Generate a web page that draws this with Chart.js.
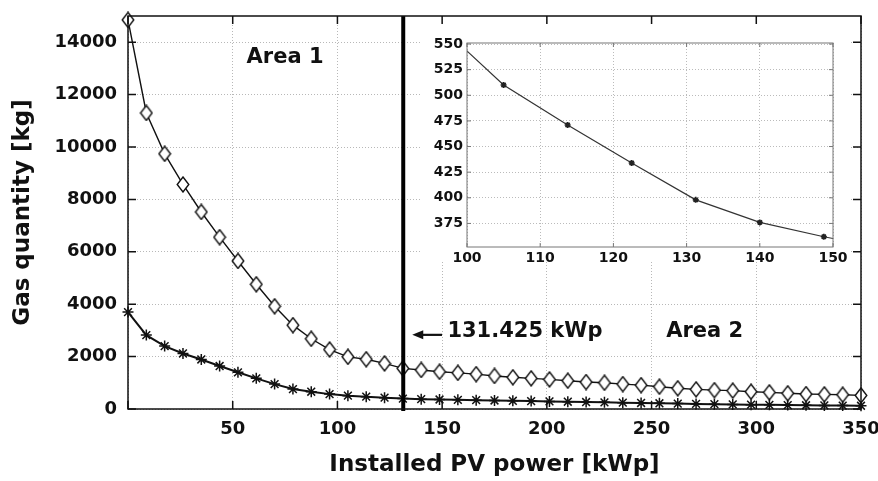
<!DOCTYPE html>
<html>
<head>
<meta charset="utf-8">
<script src="https://cdn.jsdelivr.net/npm/chart.js@4.4.0/dist/chart.umd.min.js"></script>
<style>
  html, body { margin: 0; padding: 0; background: #fff; }
  #wrap { position: relative; width: 878px; height: 481px; }
  #main { position: absolute; left: 0; top: 0; }
  #inset { position: absolute; left: 420px; top: 25px; }
</style>
</head>
<body>
<div id="wrap">
  <canvas id="main" width="878" height="481"></canvas>
  <canvas id="inset" width="430" height="237"></canvas>
</div>
<script>
const pvPower = [0, 8.75, 17.5, 26.25, 35, 43.75, 52.5, 61.25, 70, 78.75, 87.5, 96.25, 105, 113.75, 122.5,
  131.25, 140, 148.75, 157.5, 166.25, 175, 183.75, 192.5, 201.25, 210, 218.75, 227.5, 236.25, 245,
  253.75, 262.5, 271.25, 280, 288.75, 297.5, 306.25, 315, 323.75, 332.5, 341.25, 350];
const gasDiamond = [14850, 11300, 9740, 8570, 7520, 6560, 5650, 4760, 3920, 3200, 2680, 2270, 1990, 1900, 1740,
  1550, 1490, 1420, 1380, 1330, 1260, 1210, 1170, 1130, 1080, 1030, 1000, 950, 910,
  850, 790, 750, 720, 700, 660, 635, 600, 570, 560, 545, 520];
const gasStar = [3700, 2820, 2400, 2120, 1890, 1640, 1400, 1170, 950, 760, 660, 568, 510, 471, 434,
  398, 376, 362, 350, 338, 326, 314, 302, 290, 278, 266, 254, 242, 230,
  218, 206, 195, 185, 175, 166, 158, 150, 143, 136, 130, 124];
const xTicks = [0, 50, 100, 150, 200, 250, 300, 350];
const yTicks = [0, 2000, 4000, 6000, 8000, 10000, 12000, 14000];
const insetXTicks = [100, 110, 120, 130, 140, 150];
const insetYTicks = [375, 400, 425, 450, 475, 500, 525, 550];
const cutPower = 131.425;
const cutLabel = "131.425 kWp";

const FONT = "'DejaVu Sans', 'Liberation Sans', sans-serif";
const INK = "#111";

function toPoints(xs, ys) {
  return xs.map((x, i) => ({ x: x, y: ys[i] }));
}

// fixed axis size, no extra room for half labels
function fixSize(w, h) {
  return s => {
    if (w != null) s.width = w;
    if (h != null) s.height = h;
    s.paddingLeft = 0; s.paddingRight = 0; s.paddingTop = 0; s.paddingBottom = 0;
  };
}

// diamond marker, a bit taller than wide like the original
function diamondMarker() {
  const c = document.createElement("canvas");
  c.width = 14; c.height = 17;
  const g = c.getContext("2d");
  g.beginPath();
  g.moveTo(7, 1); g.lineTo(12.8, 8.5); g.lineTo(7, 16); g.lineTo(1.2, 8.5); g.closePath();
  g.fillStyle = "#fff"; g.fill();
  g.lineWidth = 1.4; g.strokeStyle = INK; g.stroke();
  return c;
}

function frame(ctx, chart, color, width, tickLen, xVals, yVals) {
  const a = chart.chartArea, xs = chart.scales.x, ys = chart.scales.y;
  ctx.save();
  ctx.strokeStyle = color; ctx.lineWidth = width;
  ctx.strokeRect(a.left, a.top, a.right - a.left, a.bottom - a.top);
  ctx.beginPath();
  xVals.forEach(v => {
    const px = xs.getPixelForValue(v);
    ctx.moveTo(px, a.bottom); ctx.lineTo(px, a.bottom - tickLen);
    ctx.moveTo(px, a.top); ctx.lineTo(px, a.top + tickLen);
  });
  yVals.forEach(v => {
    const py = ys.getPixelForValue(v);
    ctx.moveTo(a.left, py); ctx.lineTo(a.left + tickLen, py);
    ctx.moveTo(a.right, py); ctx.lineTo(a.right - tickLen, py);
  });
  ctx.stroke();
  ctx.restore();
}

const mainDecor = {
  id: "mainDecor",
  afterDatasetsDraw(chart) {
    const ctx = chart.ctx, a = chart.chartArea, xs = chart.scales.x;
    // threshold line
    const cx = xs.getPixelForValue(cutPower);
    ctx.save();
    ctx.strokeStyle = "#000"; ctx.lineWidth = 4;
    ctx.beginPath(); ctx.moveTo(cx, a.top); ctx.lineTo(cx, a.bottom + 2); ctx.stroke();
    ctx.restore();
  },
  afterDraw(chart) {
    const ctx = chart.ctx, xs = chart.scales.x, ys = chart.scales.y;
    frame(ctx, chart, INK, 1.5, 8, xTicks, yTicks);

    ctx.save();
    ctx.fillStyle = INK; ctx.strokeStyle = INK;
    ctx.font = "bold 21px " + FONT;
    ctx.textBaseline = "middle";
    ctx.textAlign = "center";
    ctx.fillText("Area 1", xs.getPixelForValue(75), ys.getPixelForValue(13400));

    ctx.textAlign = "left";
    ctx.fillText(cutLabel, xs.getPixelForValue(152.5), ys.getPixelForValue(2950));
    ctx.fillText("Area 2", xs.getPixelForValue(257), ys.getPixelForValue(2950));

    // arrow pointing back to the threshold line
    const ay = ys.getPixelForValue(2830);
    const x0 = xs.getPixelForValue(cutPower + 4.3), x1 = xs.getPixelForValue(cutPower + 18.5);
    ctx.lineWidth = 2.2;
    ctx.beginPath(); ctx.moveTo(x0 + 6, ay); ctx.lineTo(x1, ay); ctx.stroke();
    ctx.beginPath(); ctx.moveTo(x0, ay); ctx.lineTo(x0 + 11, ay - 4.5); ctx.lineTo(x0 + 11, ay + 4.5); ctx.closePath(); ctx.fill();
    ctx.restore();
  }
};

new Chart(document.getElementById("main"), {
  type: "line",
  data: {
    datasets: [
      { data: toPoints(pvPower, gasDiamond), borderColor: INK, borderWidth: 1.4, pointStyle: diamondMarker(),
        pointRadius: 7, clip: false },
      { data: toPoints(pvPower, gasStar), borderColor: INK, borderWidth: 2, pointStyle: "star",
        pointRadius: 5.5, pointBorderWidth: 1.5, pointBorderColor: INK, clip: false }
    ]
  },
  options: {
    responsive: false,
    animation: false,
    layout: { padding: { top: 16, right: 17, left: 0, bottom: 0 } },
    plugins: { legend: { display: false }, tooltip: { enabled: false } },
    scales: {
      x: {
        type: "linear", min: 0, max: 350,
        afterBuildTicks: s => { s.ticks = xTicks.map(v => ({ value: v })); },
        afterFit: fixSize(null, 72),
        ticks: { callback: v => (v === 0 ? "" : String(v)), font: { family: FONT, size: 18, weight: "bold" },
          color: INK, padding: 10, maxRotation: 0, autoSkip: false },
        grid: { color: "#b8b8b8", lineWidth: 1, drawTicks: false },
        border: { display: false, dash: [1, 2] },
        title: { display: true, text: "Installed PV power [kWp]", color: INK,
          font: { family: FONT, size: 23, weight: "bold" }, padding: { top: 0, bottom: 2 } }
      },
      y: {
        type: "linear", min: 0, max: 15000,
        afterBuildTicks: s => { s.ticks = yTicks.map(v => ({ value: v })); },
        afterFit: fixSize(128, null),
        ticks: { callback: v => String(v), font: { family: FONT, size: 18, weight: "bold" },
          color: INK, padding: 11, autoSkip: false },
        grid: { color: "#b8b8b8", lineWidth: 1, drawTicks: false },
        border: { display: false, dash: [1, 2] },
        title: { display: true, text: "Gas quantity [kg]", color: INK,
          font: { family: FONT, size: 23, weight: "bold" }, padding: { top: 9, bottom: 0 } }
      }
    }
  },
  plugins: [mainDecor]
});

const insetDecor = {
  id: "insetDecor",
  beforeDraw(chart) {
    const ctx = chart.ctx;
    ctx.save(); ctx.fillStyle = "#fff"; ctx.fillRect(0, 0, chart.width, chart.height); ctx.restore();
  },
  afterDraw(chart) {
    frame(chart.ctx, chart, "#777", 1, 4, insetXTicks, insetYTicks);
  }
};

new Chart(document.getElementById("inset"), {
  type: "line",
  data: {
    datasets: [
      { data: toPoints(pvPower, gasStar), borderColor: "#333", borderWidth: 1.2, pointStyle: "star",
        pointRadius: 3, pointBorderWidth: 1.6, pointBorderColor: "#222" }
    ]
  },
  options: {
    responsive: false,
    animation: false,
    layout: { padding: { top: 18, right: 17, left: 0, bottom: 0 } },
    plugins: { legend: { display: false }, tooltip: { enabled: false } },
    scales: {
      x: {
        type: "linear", min: 100, max: 150,
        afterBuildTicks: s => { s.ticks = insetXTicks.map(v => ({ value: v })); },
        afterFit: fixSize(null, 15),
        ticks: { callback: v => String(v), font: { family: FONT, size: 14, weight: "bold" },
          color: INK, padding: 3, maxRotation: 0, autoSkip: false },
        grid: { color: "#bbb", lineWidth: 1, drawTicks: false },
        border: { display: false, dash: [1, 2] }
      },
      y: {
        type: "linear", min: 352, max: 551,
        afterBuildTicks: s => { s.ticks = insetYTicks.map(v => ({ value: v })); },
        afterFit: fixSize(47, null),
        ticks: { callback: v => String(v), font: { family: FONT, size: 14, weight: "bold" },
          color: INK, padding: 4, autoSkip: false },
        grid: { color: "#bbb", lineWidth: 1, drawTicks: false },
        border: { display: false, dash: [1, 2] }
      }
    }
  },
  plugins: [insetDecor]
});
</script>
</body>
</html>
